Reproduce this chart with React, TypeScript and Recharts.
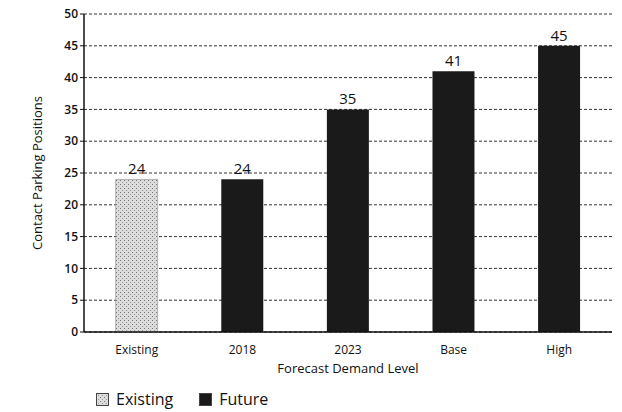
import { BarChart, Bar, XAxis, YAxis, CartesianGrid, LabelList, Legend, Label } from 'recharts';

const categories = ['Existing', '2018', '2023', 'Base', 'High'];
const existingValues = [24, null, null, null, null];
const futureValues = [null, 24, 35, 41, 45];
const yTicks = [0, 5, 10, 15, 20, 25, 30, 35, 40, 45, 50];

const data = categories.map((name, i) => ({
  name,
  existing: existingValues[i],
  future: futureValues[i],
}));

const FONT = '"Open Sans", "DejaVu Sans", sans-serif';
const FUTURE_FILL = '#1a1a1a';

function LegendBox() {
  const item = (label: string, fill: string) => (
    <span style={{ display: 'inline-flex', alignItems: 'center', marginRight: 26 }}>
      <svg width={13} height={13} style={{ marginRight: 7 }}>
        <rect x={0.5} y={0.5} width={12} height={12} fill={fill} stroke="#444" />
      </svg>
      <span style={{ fontSize: 16, color: '#111', fontWeight: 500 }}>{label}</span>
    </span>
  );
  return (
    <div style={{ height: 30, display: 'flex', alignItems: 'flex-end', paddingLeft: 76, fontFamily: FONT }}>
      {item('Existing', 'url(#stipple)')}
      {item('Future', FUTURE_FILL)}
    </div>
  );
}

export default function App() {
  return (
    <div style={{ position: 'absolute', left: 0, top: 0, background: '#fff' }}>
      <BarChart
        width={622}
        height={412}
        data={data}
        margin={{ top: 14, right: 10, bottom: 2, left: 20 }}
        barCategoryGap="30%"
      >
        <defs>
          <pattern id="stipple" width="4" height="4" patternUnits="userSpaceOnUse">
            <rect width="4" height="4" fill="#dcdcdc" />
            <rect x="0" y="0" width="1" height="1" fill="#777" />
            <rect x="2" y="2" width="1" height="1" fill="#999" />
          </pattern>
        </defs>
        <CartesianGrid vertical={false} stroke="#333" strokeDasharray="3 2" />
        <XAxis
          dataKey="name"
          height={48}
          tickLine={false}
          axisLine={{ stroke: '#111', strokeWidth: 1.5 }}
          tick={{ fontFamily: FONT, fontSize: 12, fill: '#111', fontWeight: 500 }}
          tickMargin={7}
        >
          <Label
            value="Forecast Demand Level"
            position="insideBottom"
            offset={7}
            style={{ fontFamily: FONT, fontSize: 13, fill: '#111', fontWeight: 500 }}
          />
        </XAxis>
        <YAxis
          width={64}
          domain={[0, 50]}
          ticks={yTicks}
          interval={0}
          tickLine={{ stroke: '#111' }}
          tickSize={4}
          axisLine={{ stroke: '#111', strokeWidth: 1.5 }}
          tick={{ fontFamily: FONT, fontSize: 12, fill: '#111', fontWeight: 600 }}
        >
          <Label
            value="Contact Parking Positions"
            angle={-90}
            position="insideLeft"
            offset={17}
            style={{ fontFamily: FONT, fontSize: 13, fill: '#111', textAnchor: 'middle', fontWeight: 500 }}
          />
        </YAxis>
        <Legend verticalAlign="bottom" align="left" content={() => <LegendBox />} />
        <Bar dataKey="existing" name="Existing" stackId="a" fill="url(#stipple)" stroke="#777" strokeWidth={0.5} isAnimationActive={false}>
          <LabelList dataKey="existing" position="top" offset={5} style={{ fontFamily: FONT, fontSize: 15, fill: '#111', fontWeight: 500 }} />
        </Bar>
        <Bar dataKey="future" name="Future" stackId="a" fill={FUTURE_FILL} isAnimationActive={false}>
          <LabelList dataKey="future" position="top" offset={5} style={{ fontFamily: FONT, fontSize: 15, fill: '#111', fontWeight: 500 }} />
        </Bar>
      </BarChart>
    </div>
  );
}
